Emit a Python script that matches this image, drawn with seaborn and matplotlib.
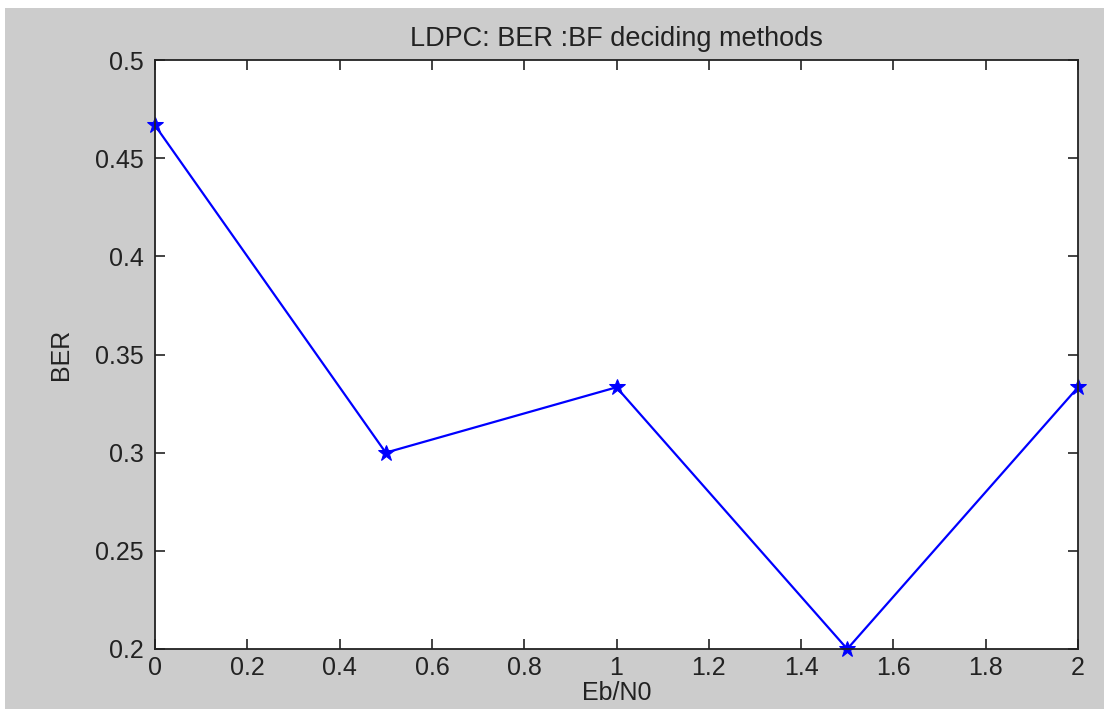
import numpy as np
import pandas as pd
import matplotlib.pyplot as plt
import seaborn as sns
from matplotlib.patches import Rectangle

sns.set_style("ticks")
plt.rcParams['font.family'] = ['Liberation Sans', 'DejaVu Sans']

# values
ebn0 = [0, 0.5, 1, 1.5, 2]
ber = [0.4667, 0.3, 0.3333, 0.2, 0.3333]
xticks = [0, 0.2, 0.4, 0.6, 0.8, 1, 1.2, 1.4, 1.6, 1.8, 2]
yticks = [0.2, 0.25, 0.3, 0.35, 0.4, 0.45, 0.5]

df = pd.DataFrame({'Eb/N0': ebn0, 'BER': ber})

fig = plt.figure(figsize=(11.04, 7.09), dpi=100, facecolor='white')
# grey figure panel with thin white strip at top/left like the screenshot
fig.patches.append(Rectangle((5 / 1104, 0), 1, (709 - 8) / 709,
                             transform=fig.transFigure, facecolor='#cccccc',
                             edgecolor='none', zorder=-1))
ax = fig.add_axes([155 / 1104, 1 - 649 / 709, (1078 - 155) / 1104, (649 - 60) / 709])
ax.set_facecolor('white')

sns.lineplot(data=df, x='Eb/N0', y='BER', ax=ax, color='#0000ff', linewidth=1.6,
             marker='*', markersize=12, markeredgecolor='#0000ff', markerfacecolor='#0000ff',
             clip_on=False)

ax.set_xlim(0, 2)
ax.set_ylim(0.2, 0.5)
ax.set_xticks(xticks)
ax.set_xticklabels([f'{t:g}' for t in xticks])
ax.set_yticks(yticks)
ax.set_yticklabels([f'{t:g}' for t in yticks])
ax.tick_params(direction='in', length=7, width=1.2, colors='#222222', labelsize=18,
               top=True, right=True, labelcolor='#222222')
ax.tick_params(axis='x', pad=5)
ax.tick_params(axis='y', pad=8)
for s in ax.spines.values():
    s.set_visible(True)
    s.set_color('#222222')
    s.set_linewidth(1.3)

ax.set_title('LDPC: BER :BF deciding methods', fontsize=19.5, color='#222222', pad=10)
ax.set_xlabel('Eb/N0', fontsize=18, color='#222222', labelpad=1)
ax.set_ylabel('BER', fontsize=18, color='#222222', labelpad=16)

fig.savefig('out.png', dpi=100, facecolor=fig.get_facecolor())
